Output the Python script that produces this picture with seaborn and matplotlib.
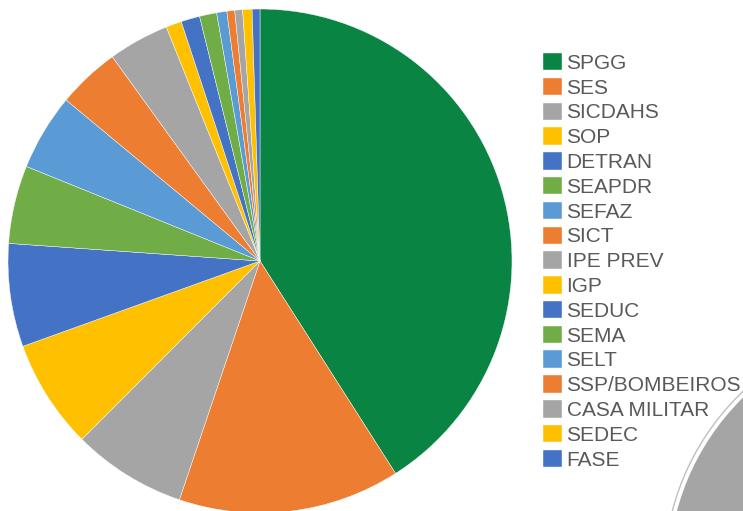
import matplotlib
matplotlib.use("Agg")
import matplotlib.pyplot as plt
import seaborn as sns

# shares (percent)
orgaos = ['SPGG', 'SES', 'SICDAHS', 'SOP', 'DETRAN', 'SEAPDR', 'SEFAZ', 'SICT',
          'IPE PREV', 'IGP', 'SEDUC', 'SEMA', 'SELT', 'SSP/BOMBEIROS',
          'CASA MILITAR', 'SEDEC', 'FASE']
valores = [40.9, 14.2, 7.3, 7.0, 6.6, 5.0, 4.9, 4.0,
           3.9, 1.0, 1.2, 1.1, 0.65, 0.5,
           0.5, 0.6, 0.5]

office = ['#ED7D31', '#A5A5A5', '#FFC000', '#4472C4', '#70AD47', '#5B9BD5']
cores = ['#0A8443'] + [office[i % len(office)] for i in range(len(orgaos) - 1)]

sns.set_style('white')
plt.rcParams['font.family'] = ['Liberation Sans', 'DejaVu Sans']

W, H = 743, 511
fig = plt.figure(figsize=(W / 100, H / 100), dpi=100)

# neighbouring chart, cropped at the bottom-right corner
ax2 = fig.add_axes([(917 - 258) / W, (-64 - 258) / H, 516 / W, 516 / H])
ax2.pie([1], colors=['white'], radius=1.0,
        wedgeprops=dict(edgecolor='#bfbfbf', linewidth=1))
ax2.pie([1], colors=['#A5A5A5'], radius=0.985)
ax2.set_xlim(-1.02, 1.02)
ax2.set_ylim(-1.02, 1.02)
ax2.axis('off')

ax = fig.add_axes([8 / W, -2 / H, 504 / W, 504 / H])
wedges, _ = ax.pie(valores, colors=cores, startangle=90, counterclock=False,
                   radius=1.0,
                   wedgeprops=dict(edgecolor='white', linewidth=0.3))
ax.set_xlim(-1, 1)
ax.set_ylim(-1, 1)
ax.axis('off')

leg = fig.legend(wedges, orgaos, loc='upper left',
                 bbox_to_anchor=(543 / W, 1 - 53 / H),
                 frameon=False, fontsize=15.0, labelcolor='#595959',
                 handlelength=0.91, handleheight=0.91, handletextpad=0.22,
                 labelspacing=0.235, borderaxespad=0, borderpad=0)

fig.savefig('out.png', dpi=100)
